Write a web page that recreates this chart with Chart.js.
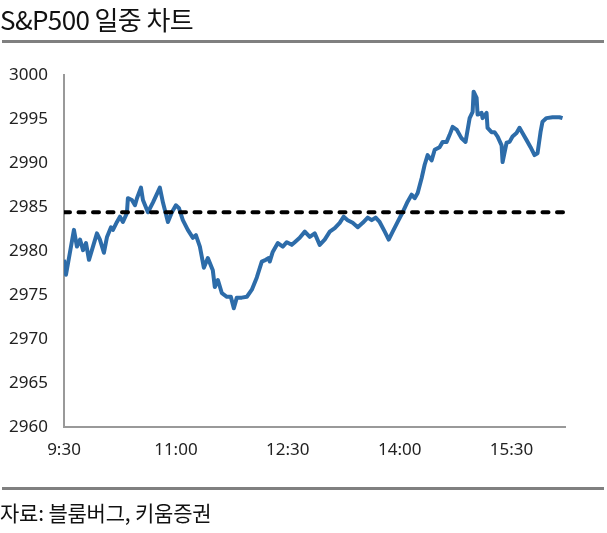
<!DOCTYPE html>
<html>
<head>
<meta charset="utf-8">
<script src="https://cdn.jsdelivr.net/npm/chart.js@4"></script>
<style>
  body { margin: 0; background: #fff; }
  #wrap { position: relative; width: 607px; height: 533px; }
  #chart { position: absolute; left: 0; top: 0; }
  .title { position: absolute; left: 0; top: 0px; font: 26px "Noto Sans CJK KR", sans-serif; color: #111; letter-spacing: -0.6px; }
  .rule { position: absolute; left: 2px; width: 602px; height: 3px; background: #808080; }
  .source { position: absolute; left: 0; top: 497px; font: 21px "Noto Sans CJK KR", sans-serif; color: #111; letter-spacing: -0.2px; }
</style>
</head>
<body>
<div id="wrap">
  <canvas id="chart" width="607" height="533"></canvas>
  <div class="title">S&amp;P500 일중 차트</div>
  <div class="rule" style="top:40px"></div>
  <div class="rule" style="top:487px"></div>
  <div class="source">자료: 블룸버그, 키움증권</div>
</div>
<script>
// minutes since 9:30
const times = [0, 1.6, 8.0, 10.4, 12.9, 15.3, 17.7, 20.1, 23.3, 26.5, 28.9, 32.1, 34.6, 37.8, 39.4, 42.6, 45.0, 47.4, 50.6, 51.4,
  54.6, 57.1, 58.7, 61.9, 63.5, 67.5, 71.5, 77.1, 79.6, 83.6, 86.8, 90.0, 92.4, 95.6, 99.6, 103.7, 106.1, 109.3, 112.5, 115.7,
  119.7, 121.3, 123.8, 127.0, 131.0, 134.2, 136.6, 139.0, 143.0, 147.1, 151.1, 155.1, 159.1, 162.3, 164.7, 165.5, 167.9, 172.0, 176.0, 179.2,
  183.2, 185.6, 189.6, 193.7, 197.7, 201.7, 205.7, 209.7, 213.8, 217.8, 221.8, 225.0, 228.2, 232.2, 236.3, 240.3, 244.3, 247.5, 250.7, 253.9,
  258.0, 261.2, 264.4, 268.4, 272.4, 276.4, 279.6, 282.1, 284.5, 287.7, 290.1, 292.5, 295.7, 298.2, 302.1, 304.6, 307.8, 310.2, 312.6, 315.8,
  319.8, 323.0, 326.3, 328.7, 329.5, 331.9, 332.7, 335.9, 336.7, 339.9, 340.7, 343.9, 346.3, 348.8, 352.0, 352.8, 356.0, 358.4, 360.8, 364.0,
  366.4, 368.8, 372.1, 375.3, 378.5, 380.9, 383.3, 384.9, 388.1, 393.0, 398.6, 401.0];
const prices = [2979.0, 2977.3, 2982.4, 2980.5, 2981.3, 2980.1, 2980.9, 2979.0, 2980.5, 2982.0, 2981.3, 2979.8, 2981.6, 2982.7, 2982.4, 2983.3, 2983.9, 2983.3, 2984.3, 2986.0,
  2985.8, 2985.2, 2986.0, 2987.2, 2985.8, 2984.4, 2985.5, 2987.2, 2985.5, 2983.3, 2984.4, 2985.2, 2984.9, 2983.5, 2982.4, 2981.5, 2981.8, 2980.5, 2978.1, 2979.2,
  2977.8, 2975.9, 2976.7, 2975.2, 2974.8, 2974.8, 2973.5, 2974.7, 2974.7, 2974.8, 2975.6, 2977.0, 2978.8, 2979.0, 2979.2, 2978.8, 2979.9, 2980.9, 2980.5, 2981.0,
  2980.7, 2981.0, 2981.5, 2982.2, 2981.6, 2982.0, 2980.7, 2981.3, 2982.2, 2982.6, 2983.2, 2983.9, 2983.5, 2983.2, 2982.7, 2983.2, 2983.8, 2983.5, 2983.8, 2983.3,
  2982.2, 2981.3, 2982.2, 2983.3, 2984.4, 2985.6, 2986.4, 2986.0, 2986.6, 2988.3, 2989.8, 2990.9, 2990.3, 2991.5, 2991.8, 2992.4, 2992.4, 2993.2, 2994.1, 2993.8,
  2992.8, 2992.4, 2995.1, 2995.8, 2998.1, 2997.4, 2995.5, 2995.7, 2995.1, 2995.7, 2994.0, 2993.5, 2993.5, 2993.0, 2992.0, 2990.1, 2992.3, 2992.4, 2993.0, 2993.4,
  2994.0, 2993.4, 2992.6, 2991.8, 2990.9, 2991.1, 2993.5, 2994.7, 2995.1, 2995.2, 2995.2, 2995.1];
const refLevel = 2984.4;
const tickPos = [0, 90, 180, 270, 360];
const tickLabels = ['9:30', '11:00', '12:30', '14:00', '15:30'];
const xMax = 403;

const tickFont = { family: '"Noto Sans", sans-serif', size: 17 };

new Chart(document.getElementById('chart'), {
  type: 'line',
  data: {
    datasets: [
      {
        data: [{ x: 0, y: refLevel }, { x: xMax, y: refLevel }],
        borderColor: '#000',
        borderWidth: 4,
        borderDash: [6, 8.5],
        borderCapStyle: 'round',
        pointRadius: 0,
        order: 0
      },
      {
        data: times.map((t, i) => ({ x: t, y: prices[i] })),
        borderColor: '#2d6ca9',
        borderWidth: 4,
        borderJoinStyle: 'round',
        pointRadius: 0,
        tension: 0,
        order: 1
      }
    ]
  },
  options: {
    responsive: false,
    animation: false,
    layout: { padding: { left: 0, top: 75, right: 42, bottom: 0 } },
    plugins: { legend: { display: false }, tooltip: { enabled: false } },
    scales: {
      x: {
        type: 'linear',
        min: 0,
        max: xMax,
        afterBuildTicks: s => { s.ticks = tickPos.map(v => ({ value: v })); },
        afterFit: s => { s.height = 106; },
        grid: { drawOnChartArea: false, drawTicks: false },
        border: { display: true, color: '#999', width: 2 },
        ticks: {
          padding: 13,
          color: '#222',
          font: tickFont,
          maxRotation: 0,
          callback: v => tickLabels[tickPos.indexOf(v)]
        }
      },
      y: {
        min: 2960,
        max: 3000,
        afterFit: s => { s.width = 64; },
        grid: { drawOnChartArea: false, drawTicks: false },
        border: { display: true, color: '#999', width: 2 },
        ticks: { stepSize: 5, padding: 16, color: '#222', font: tickFont, callback: v => String(v) }
      }
    }
  }
});
</script>
</body>
</html>
